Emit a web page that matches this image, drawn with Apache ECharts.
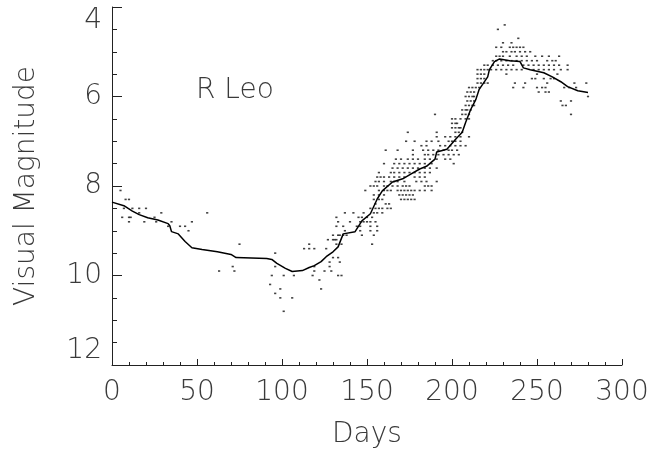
<!DOCTYPE html>
<html>
<head>
<meta charset="utf-8">
<title>R Leo</title>
<script src="https://cdn.jsdelivr.net/npm/echarts@6.0.0/dist/echarts.min.js"></script>
<style>
html, body { margin: 0; padding: 0; background: #fff; }
#main { width: 652px; height: 454px; }
</style>
</head>
<body>
<div id="main"></div>
<script>
// running mean (the solid curve)
var meanDays = [0, 7, 12, 16, 21, 27, 33, 34, 35, 39, 43, 47, 53, 62, 70, 73, 91, 94, 97, 102, 106, 112,
    116, 119, 123, 126, 130, 133, 136, 143, 147, 152, 156, 159, 165, 171, 176, 181, 185, 190, 191, 197,
    202, 206, 208, 211, 214, 216, 221, 222, 225, 228, 234, 240, 242, 246, 254, 259, 264, 268, 274, 280];
var meanMags = [8.36, 8.44, 8.56, 8.64, 8.71, 8.76, 8.84, 8.89, 9.02, 9.07, 9.24, 9.38, 9.42, 9.47, 9.53, 9.6, 9.62, 9.64, 9.73, 9.84, 9.91, 9.89,
    9.82, 9.78, 9.69, 9.58, 9.47, 9.36, 9.07, 9.02, 8.78, 8.62, 8.29, 8.11, 7.91, 7.84, 7.73, 7.62, 7.56, 7.4, 7.24, 7.18,
    6.96, 6.8, 6.58, 6.29, 6.07, 5.84, 5.56, 5.4, 5.22, 5.16, 5.2, 5.22, 5.36, 5.4, 5.47, 5.56, 5.67, 5.78, 5.87, 5.91];

// individual visual estimates [day, magnitude]
var observations = [
    [5, 8.1], [8, 8.3], [10, 8.3], [7, 8.5], [12, 8.5], [16, 8.5], [20, 8.5], [6, 8.7], [10, 8.7], [11, 8.7],
    [10, 8.8], [19, 8.8], [16, 8.6], [29, 8.6], [25, 8.7], [26, 8.8], [35, 8.8], [33, 8.9], [40, 8.9], [43, 8.9],
    [47, 8.8], [45, 9.0], [56, 8.6], [75, 9.3], [71, 9.8], [63, 9.9], [72, 9.9],
    [96, 9.5], [96, 9.8], [94, 10.0], [101, 10.0], [107, 10.0], [93, 10.2], [99, 10.3], [96, 10.4], [99, 10.5],
    [106, 10.5], [101, 10.8], [113, 9.4], [116, 9.4], [119, 9.4], [116, 9.3], [119, 9.8], [119, 9.9], [118, 10.0],
    [122, 10.1], [123, 10.3], [125, 9.9], [128, 9.8], [129, 9.9], [127, 9.2], [130, 9.1], [133, 9.1], [131, 9.2],
    [132, 9.2], [132, 9.3], [135, 9.3], [133, 8.8], [137, 8.6], [136, 8.9], [137, 9.0], [126, 9.4], [130, 9.6],
    [133, 9.6], [128, 9.7], [134, 9.7], [133, 10.0], [135, 10.0],
    [153, 9.3], [130, 9.2],
    [134, 9.1], [136, 9.1], [138, 9.1], [147, 9.1], [154, 9.1],
    [146, 9.0], [152, 9.0], [156, 9.0],
    [132, 8.9], [144, 8.9], [146, 8.9], [152, 8.9], [156, 8.9],
    [140, 8.8], [146, 8.8], [148, 8.8], [150, 8.8], [152, 8.8], [155, 8.8],
    [132, 8.7], [145, 8.7], [147, 8.7], [150, 8.7], [153, 8.7],
    [142, 8.6], [148, 8.6], [154, 8.6], [156, 8.6], [159, 8.6],
    [152, 8.5], [155, 8.5], [157, 8.5], [159, 8.5], [162, 8.5], [164, 8.5],
    [155, 8.4], [161, 8.4], [163, 8.4],
    [154, 8.3], [157, 8.3], [159, 8.3], [170, 8.3], [172, 8.3], [174, 8.3], [176, 8.3], [178, 8.3],
    [154, 8.2], [157, 8.2], [160, 8.2], [169, 8.2], [171, 8.2], [173, 8.2], [175, 8.2], [177, 8.2],
    [149, 8.1], [157, 8.1], [160, 8.1], [162, 8.1], [164, 8.1], [168, 8.1], [170, 8.1], [172, 8.1], [174, 8.1],
    [176, 8.1], [178, 8.1], [181, 8.1], [184, 8.1], [188, 8.1],
    [152, 8.0], [154, 8.0], [156, 8.0], [160, 8.0], [162, 8.0], [165, 8.0], [168, 8.0], [171, 8.0], [173, 8.0],
    [175, 8.0], [184, 8.0], [186, 8.0], [188, 8.0],
    [155, 7.9], [157, 7.9], [160, 7.9], [164, 7.9], [166, 7.9], [168, 7.9], [172, 7.9], [179, 7.9], [182, 7.9],
    [185, 7.9], [191, 7.9],
    [156, 7.8], [158, 7.8], [160, 7.8], [163, 7.8], [166, 7.8], [169, 7.8], [172, 7.8], [178, 7.8], [181, 7.8], [184, 7.8],
    [157, 7.7], [164, 7.7], [166, 7.7], [169, 7.7], [172, 7.7], [175, 7.7], [178, 7.7], [181, 7.7], [184, 7.7], [187, 7.7],
    [165, 7.6], [168, 7.6], [171, 7.6], [174, 7.6], [177, 7.6], [180, 7.6], [184, 7.6], [187, 7.6], [191, 7.6],
    [160, 7.5], [166, 7.5], [169, 7.5], [172, 7.5], [175, 7.5], [178, 7.5], [181, 7.5], [184, 7.5], [188, 7.5], [201, 7.5],
    [167, 7.4], [170, 7.4], [174, 7.4], [177, 7.4], [180, 7.4], [184, 7.4], [187, 7.4], [191, 7.4], [196, 7.4], [199, 7.4],
    [177, 7.3], [184, 7.3], [186, 7.3], [189, 7.3], [192, 7.3], [195, 7.3], [198, 7.3], [201, 7.3], [204, 7.3],
    [161, 7.2], [168, 7.2], [177, 7.2], [183, 7.2], [186, 7.2], [189, 7.2], [192, 7.2], [195, 7.2], [198, 7.2], [200, 7.2], [203, 7.2],
    [182, 7.1], [185, 7.1], [193, 7.1], [196, 7.1], [199, 7.1], [202, 7.1], [205, 7.1], [208, 7.1],
    [173, 7.0], [178, 7.0], [185, 7.0], [188, 7.0], [192, 7.0], [198, 7.0], [200, 7.0], [202, 7.0], [205, 7.0],
    [191, 6.9], [196, 6.9], [199, 6.9], [202, 6.9], [205, 6.9], [210, 6.9],
    [174, 6.8], [191, 6.8], [202, 6.8], [204, 6.8], [206, 6.8],
    [200, 6.7], [202, 6.7], [204, 6.7], [205, 6.7],
    [200, 6.6], [202, 6.6], [203, 6.6],
    [200, 6.5], [202, 6.5], [205, 6.5], [208, 6.5], [210, 6.5],
    [190, 6.4], [206, 6.4], [208, 6.4], [210, 6.4], [270, 6.4],
    [206, 6.3], [208, 6.3], [209, 6.3], [211, 6.3],
    [208, 6.2], [210, 6.2], [212, 6.2], [213, 6.2], [265, 6.2], [267, 6.2],
    [209, 6.1], [211, 6.1], [213, 6.1], [264, 6.1], [270, 6.1],
    [208, 6.0], [210, 6.0], [212, 6.0], [213, 6.0], [280, 6.0],
    [209, 5.9], [211, 5.9], [213, 5.9], [251, 5.9], [255, 5.9], [257, 5.9],
    [210, 5.8], [212, 5.8], [214, 5.8], [216, 5.8], [236, 5.8], [242, 5.8], [250, 5.8], [253, 5.8], [255, 5.8],
    [266, 5.8], [269, 5.8], [273, 5.8],
    [215, 5.7], [217, 5.7], [219, 5.7], [221, 5.7], [237, 5.7], [243, 5.7], [256, 5.7], [272, 5.7], [279, 5.7],
    [215, 5.6], [217, 5.6], [219, 5.6], [247, 5.6], [249, 5.6], [254, 5.6], [258, 5.6], [260, 5.6],
    [215, 5.5], [217, 5.5], [219, 5.5], [232, 5.5], [250, 5.5], [262, 5.5],
    [215, 5.4], [217, 5.4], [219, 5.4], [221, 5.4], [223, 5.4], [226, 5.4], [229, 5.4], [232, 5.4], [235, 5.4],
    [238, 5.4], [241, 5.4], [248, 5.4], [251, 5.4], [254, 5.4], [257, 5.4], [260, 5.4], [264, 5.4], [268, 5.4],
    [219, 5.3], [221, 5.3], [224, 5.3], [227, 5.3], [230, 5.3], [233, 5.3], [236, 5.3], [242, 5.3], [245, 5.3],
    [248, 5.3], [251, 5.3], [254, 5.3], [257, 5.3], [260, 5.3], [263, 5.3], [268, 5.3],
    [224, 5.2], [226, 5.2], [229, 5.2], [232, 5.2], [235, 5.2], [238, 5.2], [241, 5.2], [244, 5.2], [247, 5.2],
    [250, 5.2], [256, 5.2], [259, 5.2], [261, 5.2],
    [226, 5.1], [228, 5.1], [230, 5.1], [234, 5.1], [238, 5.1], [241, 5.1], [244, 5.1], [249, 5.1], [253, 5.1],
    [257, 5.1], [263, 5.1],
    [230, 5.0], [232, 5.0], [235, 5.0], [237, 5.0], [240, 5.0], [243, 5.0], [246, 5.0],
    [226, 4.9], [229, 4.9], [234, 4.9], [236, 4.9], [238, 4.9], [240, 4.9], [242, 4.9],
    [230, 4.8], [235, 4.8], [239, 4.7], [227, 4.5], [231, 4.4]
];

var fontName = 'DejaVu Sans';
var textGray = '#3a3a3a';

var meanLine = [];
for (var i = 0; i < meanDays.length; i++) {
    meanLine.push([meanDays[i], meanMags[i]]);
}

var lightChart = echarts.init(document.getElementById('main'));
var lightOption = {
    backgroundColor: '#fff',
    animation: false,
    grid: {
        left: 112,
        right: 30,
        top: 7,
        bottom: 88
    },
    graphic: [
        {
            type: 'text',
            left: 196,
            top: 77,
            style: {
                text: 'R Leo',
                font: '200 28px "DejaVu Sans"',
                fill: textGray
            }
        }
    ],
    xAxis: {
        type: 'value',
        min: 0,
        max: 300,
        interval: 50,
        name: 'Days',
        nameLocation: 'middle',
        nameGap: 56,
        nameTextStyle: { fontFamily: fontName, fontWeight: 200, fontSize: 28, color: textGray },
        axisLine: { lineStyle: { color: '#222', width: 1 } },
        axisTick: { inside: true, length: 6, lineStyle: { color: '#222' } },
        minorTick: { show: true, splitNumber: 5, length: 3, lineStyle: { color: '#222' } },
        splitLine: { show: false },
        axisLabel: { fontFamily: fontName, fontWeight: 200, fontSize: 28, color: textGray, margin: 14 }
    },
    yAxis: {
        type: 'value',
        inverse: true,
        min: 4,
        max: 12,
        interval: 2,
        name: 'Visual Magnitude',
        nameLocation: 'middle',
        nameGap: 71,
        nameTextStyle: { fontFamily: fontName, fontWeight: 200, fontSize: 28, color: textGray },
        axisLine: { show: true, lineStyle: { color: '#222', width: 1 } },
        axisTick: { show: true, inside: true, length: 10, lineStyle: { color: '#222' } },
        minorTick: { show: true, splitNumber: 4, length: 5, lineStyle: { color: '#222' } },
        splitLine: { show: false },
        axisLabel: {
            fontFamily: fontName, fontWeight: 200, fontSize: 28, color: textGray, margin: 10,
            verticalAlignMinLabel: 'top',
            verticalAlignMaxLabel: 'bottom'
        }
    },
    series: [
        {
            name: 'observations',
            type: 'scatter',
            symbol: 'rect',
            symbolSize: [2.2, 1.6],
            itemStyle: { color: '#111' },
            data: observations,
            z: 2
        },
        {
            name: 'mean',
            type: 'line',
            showSymbol: false,
            lineStyle: { color: '#000', width: 1.5 },
            data: meanLine,
            z: 3
        }
    ]
};

lightChart.setOption(lightOption);
</script>
</body>
</html>
